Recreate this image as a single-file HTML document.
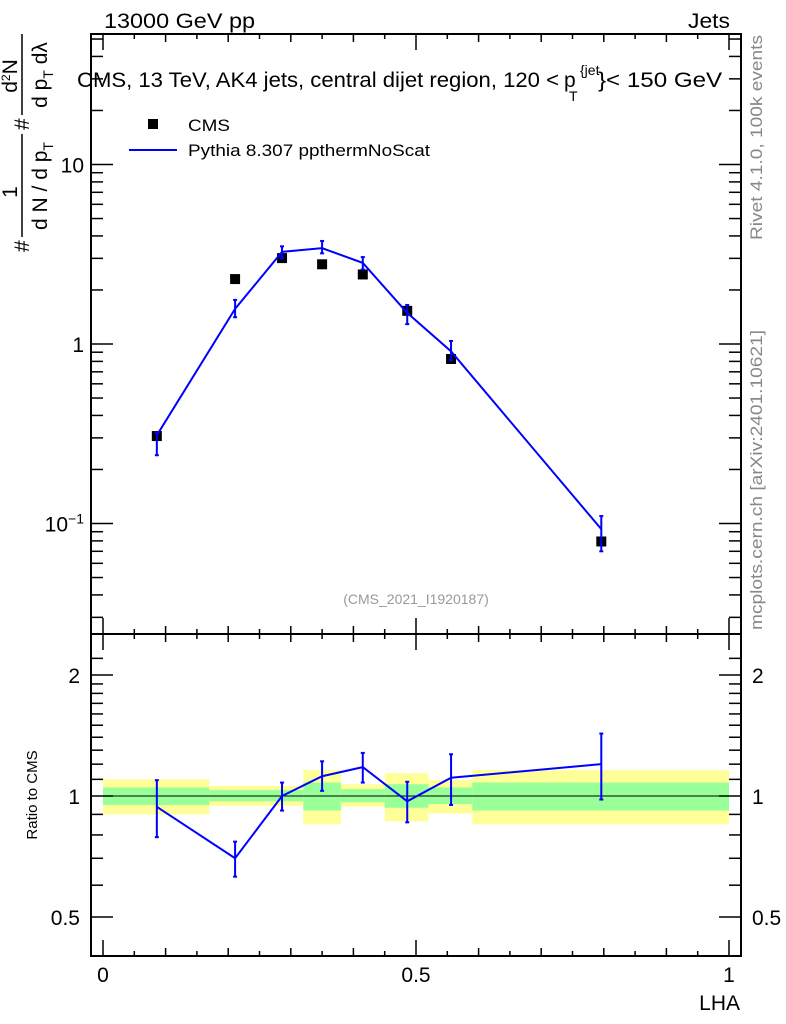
<!DOCTYPE html>
<html><head><meta charset="utf-8"><style>
html,body{margin:0;padding:0;background:#fff}
svg{display:block;font-family:"Liberation Sans",sans-serif}
</style></head><body>
<svg id="chart" width="786" height="1024" viewBox="0 0 786 1024" xmlns="http://www.w3.org/2000/svg">
<g id="bands"></g>
<g id="grid"></g>
<g id="marks"></g>
<text x="104" y="28" font-size="21" textLength="151" lengthAdjust="spacingAndGlyphs">13000 GeV pp</text>
<text x="688" y="28" font-size="21" textLength="42" lengthAdjust="spacingAndGlyphs">Jets</text>
<g font-size="21">
<text x="77" y="87" textLength="482" lengthAdjust="spacingAndGlyphs">CMS, 13 TeV, AK4 jets, central dijet region, 120 &lt;</text>
<text x="564" y="87">p</text>
<text x="569" y="101" font-size="14">T</text>
<text x="580" y="75" font-size="14">{jet</text>
<text transform="translate(598,87) scale(1.15,1)" x="0" y="0" font-size="21">}&lt; 150 GeV</text>
</g>
<g>
<rect x="148" y="119" width="10" height="10" fill="#000"/>
<text x="188" y="131" font-size="17" textLength="42" lengthAdjust="spacingAndGlyphs">CMS</text>
<line x1="129" y1="150" x2="177" y2="150" stroke="#0000ff" stroke-width="2"/>
<text x="188" y="156" font-size="17" textLength="242" lengthAdjust="spacingAndGlyphs">Pythia 8.307 ppthermNoScat</text>
</g>
<text x="416" y="604" font-size="14" fill="#999" text-anchor="middle">(CMS_2021_I1920187)</text>
<text transform="translate(762,35) rotate(-90)" font-size="17" fill="#888" text-anchor="end" textLength="205" lengthAdjust="spacingAndGlyphs">Rivet 4.1.0,  100k events</text>
<text transform="translate(762,630) rotate(-90)" font-size="17" fill="#888" textLength="300" lengthAdjust="spacingAndGlyphs">mcplots.cern.ch [arXiv:2401.10621]</text>
<g font-size="21">
<text transform="translate(29,252) rotate(-90)">#</text>
<line x1="22" y1="237" x2="22" y2="134" stroke="#000" stroke-width="1.5"/>
<text transform="translate(17,192) rotate(-90)" text-anchor="middle">1</text>
<text transform="translate(47,186) rotate(-90)" text-anchor="middle">d N / d p<tspan font-size="14" dy="6">T</tspan></text>
<text transform="translate(29,130) rotate(-90)">#</text>
<line x1="22" y1="115" x2="22" y2="34" stroke="#000" stroke-width="1.5"/>
<text transform="translate(17,76) rotate(-90)" text-anchor="middle">d<tspan font-size="12" dy="-7">2</tspan><tspan dy="7">N</tspan></text>
<text transform="translate(47,75) rotate(-90)" text-anchor="middle">d p<tspan font-size="14" dy="6">T</tspan><tspan dy="-6"> d</tspan>λ</text>
</g>
<text transform="translate(37,795) rotate(-90)" font-size="15" text-anchor="middle">Ratio to CMS</text>
<text x="740" y="1010" font-size="21" text-anchor="end">LHA</text>
</svg>
<script>
// data
const binEdges=[0,0.17,0.25,0.32,0.38,0.45,0.52,0.59,1.0];
const xVals=[0.086,0.211,0.286,0.350,0.415,0.486,0.556,0.796];
const cmsVals=[0.307,2.30,3.01,2.78,2.44,1.53,0.825,0.0794];
const mcVals=[0.31,1.57,3.26,3.42,2.83,1.49,0.91,0.093];
const mcHi=[0.32,1.76,3.5,3.75,3.05,1.65,1.04,0.11];
const mcLo=[0.24,1.41,3.0,3.2,2.6,1.29,0.81,0.07];
const ratioVals=[0.94,0.70,1.0,1.12,1.18,0.97,1.11,1.20];
const ratioHi=[1.095,0.77,1.08,1.22,1.28,1.085,1.27,1.43];
const ratioLo=[0.79,0.63,0.92,1.03,1.08,0.86,0.95,0.98];
const yelHi=[1.10,1.06,1.06,1.16,1.07,1.14,1.095,1.16];
const yelLo=[0.90,0.945,0.945,0.85,0.94,0.865,0.905,0.85];
const grnHi=[1.05,1.035,1.035,1.08,1.04,1.07,1.05,1.08];
const grnLo=[0.95,0.97,0.97,0.92,0.965,0.935,0.955,0.92];
const xTicks=[0,0.5,1];
const xTickLabels=["0","0.5","1"];
const ratioTicks=[0.5,1,2];
const ratioTickLabels=["0.5","1","2"];

const NS="http://www.w3.org/2000/svg";
const L=91,R=741,T=34,MB=634,RB=956;
const X=v=>103+v*626;
const Y=v=>344-Math.log10(v)*179.5;
const YR=v=>796-Math.log10(v)*402;
function mk(tag,attrs,parent){const e=document.createElementNS(NS,tag);for(const k in attrs)e.setAttribute(k,attrs[k]);document.getElementById(parent).appendChild(e);return e;}
for(let i=0;i<8;i++){
 const x1=X(binEdges[i]),x2=X(binEdges[i+1]);
 let e=mk('rect',{x:x1,y:YR(yelHi[i]),width:x2-x1,height:YR(yelLo[i])-YR(yelHi[i]),fill:'#ffff99'},'bands');
 
 
 e=mk('rect',{x:x1,y:YR(grnHi[i]),width:x2-x1,height:YR(grnLo[i])-YR(grnHi[i]),fill:'#99ff99'},'bands');
 
 
}
mk('line',{x1:L,x2:R,y1:YR(1),y2:YR(1),stroke:'#000','stroke-width':1},'bands');
let f=mk('rect',{x:L,y:T,width:R-L,height:MB-T,fill:'none',stroke:'#000','stroke-width':2},'grid');


f=mk('rect',{x:L,y:MB,width:R-L,height:RB-MB,fill:'none',stroke:'#000','stroke-width':2},'grid');


for(let k=0;k<=20;k++){const v=k*0.05,x=X(v);const len=(k%10==0)?16:(k%2==0?8:5);
 [MB,RB].forEach(yb=>{mk('line',{x1:x,x2:x,y1:yb,y2:yb-len,stroke:'#000','stroke-width':1.5},'grid');});
 mk('line',{x1:x,x2:x,y1:T,y2:T+len,stroke:'#000','stroke-width':1.5},'grid');
 mk('line',{x1:x,x2:x,y1:MB,y2:MB+len,stroke:'#000','stroke-width':1.5},'grid');
}
xTicks.forEach((v,i)=>{const t=mk('text',{x:X(v),y:982,'font-size':21,'text-anchor':'middle'},'grid');t.textContent=xTickLabels[i];
 
 });
for(let d=-2;d<=1;d++){for(let m=1;m<10;m++){const v=m*Math.pow(10,d),y=Y(v);if(y<T||y>MB)continue;const len=m==1?22:12;
 mk('line',{x1:L,x2:L+len,y1:y,y2:y,stroke:'#000','stroke-width':1.5},'grid');
 mk('line',{x1:R,x2:R-len,y1:y,y2:y,stroke:'#000','stroke-width':1.5},'grid');}}
[[10,"10"],[1,"1"]].forEach(p=>{const t=mk('text',{x:84,y:Y(p[0])+8,'font-size':21,'text-anchor':'end'},'grid');t.textContent=p[1];
 
 });
{const t=mk('text',{x:84,y:Y(0.1)+8,'font-size':21,'text-anchor':'end'},'grid');t.innerHTML='10<tspan font-size="14" dy="-8">−1</tspan>';
 
 }
for(let k=3;k<=23;k++){const v=k/10,y=YR(v);if(y<MB||y>RB)continue;const maj=ratioTicks.includes(v);const len=maj?22:12;
 if(v>2&&k%2)continue;
 mk('line',{x1:L,x2:L+len,y1:y,y2:y,stroke:'#000','stroke-width':1.5},'grid');
 mk('line',{x1:R,x2:R-len,y1:y,y2:y,stroke:'#000','stroke-width':1.5},'grid');}
ratioTicks.forEach((v,i)=>{[[80,'end'],[752,'start']].forEach(p=>{const t=mk('text',{x:p[0],y:YR(v)+8,'font-size':21,'text-anchor':p[1]},'grid');t.textContent=ratioTickLabels[i];
 
 });});
cmsVals.forEach((v,i)=>{const r=mk('rect',{x:X(xVals[i])-5,y:Y(v)-5,width:10,height:10,fill:'#000'},'marks');
 
 });
let pl=mk('polyline',{points:xVals.map((x,i)=>X(x)+','+Y(mcVals[i])).join(' '),fill:'none',stroke:'#0000ff','stroke-width':2},'marks');


pl=mk('polyline',{points:xVals.map((x,i)=>X(x)+','+YR(ratioVals[i])).join(' '),fill:'none',stroke:'#0000ff','stroke-width':2},'marks');


function err(x,y1,y2,name){const g=mk('g',{stroke:'#0000ff','stroke-width':2},'marks');
 
 
 const a=[[x,x,y1,y2],[x-2,x+2,y1,y1],[x-2,x+2,y2,y2]];
 a.forEach(s=>{const l=document.createElementNS(NS,'line');l.setAttribute('x1',s[0]);l.setAttribute('x2',s[1]);l.setAttribute('y1',s[2]);l.setAttribute('y2',s[3]);g.appendChild(l);});}
xVals.forEach((x,i)=>{err(X(x),Y(mcHi[i]),Y(mcLo[i]),'mc-error-bar');err(X(x),YR(ratioHi[i]),YR(ratioLo[i]),'ratio-error-bar');});
</script>
</body></html>
